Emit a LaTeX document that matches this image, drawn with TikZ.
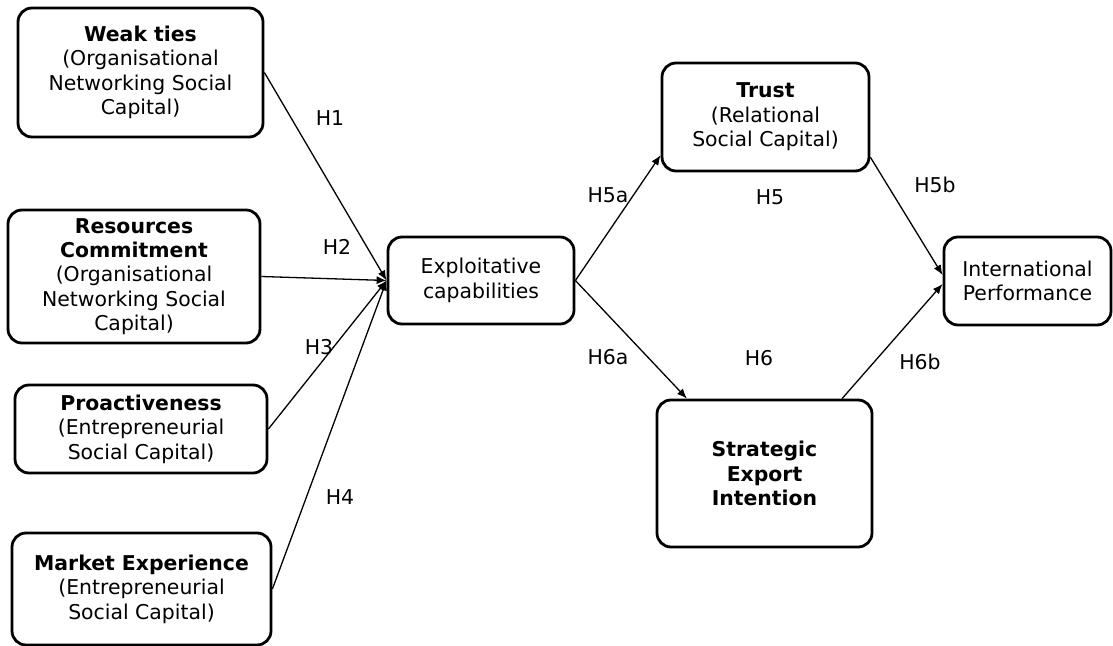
\documentclass[tikz,border=0pt]{standalone}
\usepackage{fontspec}
\setmainfont{DejaVu Sans}
\usetikzlibrary{positioning, arrows.meta}
\tikzset{
  construct/.style={
    draw=black,
    line width=1.4pt,
    rounded corners=7pt,
    fill=white,
    align=center,
    inner sep=1pt,
    font=\fontsize{10.2}{12.2}\selectfont
  },
  hlabel/.style={
    inner sep=0pt,
    font=\fontsize{10.2}{12.2}\selectfont
  },
  every edge/.style={
    draw=black,
    line width=0.65pt,
    -{Latex[length=5pt,width=4pt]}
  }
}

\begin{document}
\begin{tikzpicture}[x=0.5pt, y=-0.5pt]
  \useasboundingbox (0,0) rectangle (1113,646);

  % antecedents
  \node[construct, minimum width=122.5pt, minimum height=64.5pt] (weak) at (140.5,72.5)
    {\textbf{Weak ties}\\(Organisational\\Networking Social\\Capital)};
  \node[construct, minimum width=126pt, minimum height=66.5pt] (res) at (134,276.5)
    {\textbf{Resources}\\\textbf{Commitment}\\(Organisational\\Networking Social\\Capital)};
  \node[construct, minimum width=126pt, minimum height=44pt] (pro) at (141,429)
    {\textbf{Proactiveness}\\(Entrepreneurial\\Social Capital)};
  \node[construct, minimum width=129.5pt, minimum height=56pt] (mkt) at (141.5,589)
    {\textbf{Market Experience}\\(Entrepreneurial\\Social Capital)};

  % mediators and outcome
  \node[construct, minimum width=93pt, minimum height=43.5pt] (exp) at (481,280.5)
    {Exploitative\\capabilities};
  \node[construct, minimum width=103.5pt, minimum height=54pt] (trust) at (765.5,117)
    {\textbf{Trust}\\(Relational\\Social Capital)};
  \node[construct, minimum width=107.5pt, minimum height=73.5pt] (sei) at (764.5,473.5)
    {\textbf{Strategic}\\\textbf{Export}\\\textbf{Intention}};
  \node[construct, minimum width=83.5pt, minimum height=44pt] (intl) at (1027.5,281)
    {International\\Performance};

  \path (weak.east) edge (exp.west)
        (res.east) edge (exp.west)
        (pro.east) edge (exp.west)
        (mkt.east) edge (exp.west)
        (exp.east) edge (trust.200)
        (exp.east) edge (sei.136)
        (trust.339) edge (intl.176)
        (sei.44) edge (intl.182);

  % hypotheses
  \node[hlabel] (h1) at (330,118) {H1};
  \node[hlabel] (h2) at (337,247) {H2};
  \node[hlabel] (h3) at (319,347) {H3};
  \node[hlabel] (h4) at (340,497) {H4};
  \node[hlabel] (h5a) at (608,195) {H5a};
  \node[hlabel] (h5) at (770,197) {H5};
  \node[hlabel] (h5b) at (935,185) {H5b};
  \node[hlabel] (h6a) at (608,357) {H6a};
  \node[hlabel] (h6) at (759,358) {H6};
  \node[hlabel] (h6b) at (920,362) {H6b};
\end{tikzpicture}
\end{document}
